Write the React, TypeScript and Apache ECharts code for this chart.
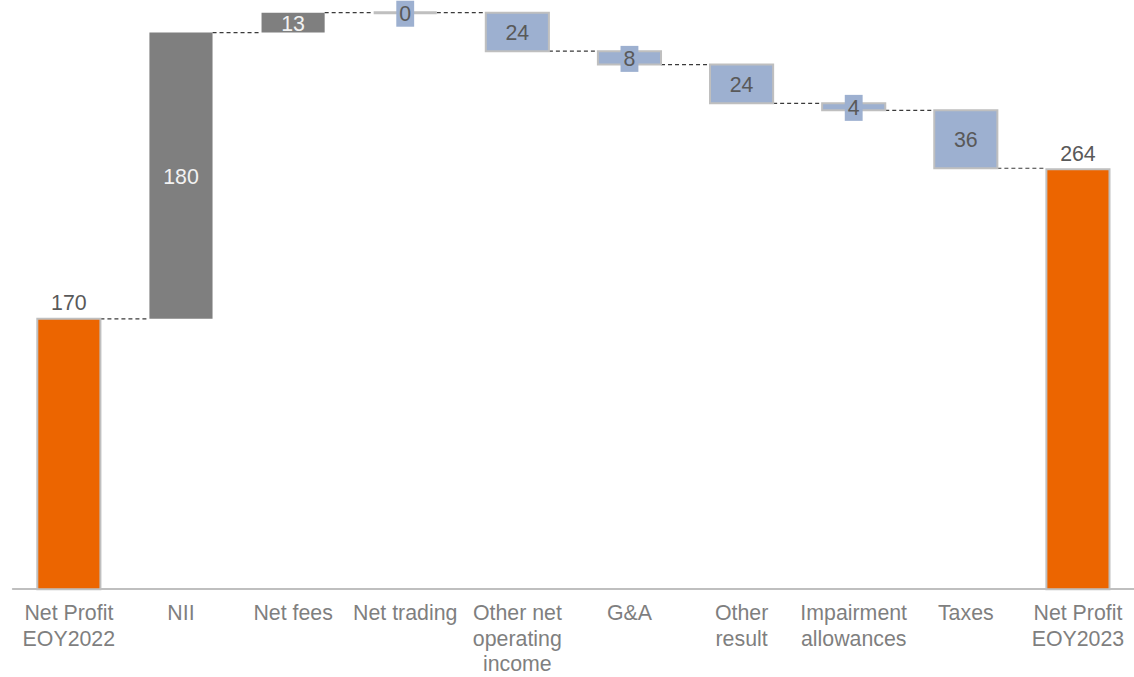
import React, { useEffect, useRef } from "react";
import * as echarts from "echarts";

const categories = [
  "Net Profit\nEOY2022",
  "NII",
  "Net fees",
  "Net trading",
  "Other net\noperating\nincome",
  "G&A",
  "Other\nresult",
  "Impairment\nallowances",
  "Taxes",
  "Net Profit\nEOY2023",
];
const startValue = 170;
const deltas = [180, 12.5, 0, -24.2, -8.4, -24.4, -4.4, -36.4];
const endValue = 264;
const smallLabelSteps = [3, 5, 7];

const ORANGE = "#EC6500";
const GRAY = "#7F7F7F";
const BLUE = "#9DB0D0";
const BORDER = "#BFBFBF";
const FONT = "'Liberation Sans', Arial, sans-serif";

export default function App() {
  const ref = useRef<HTMLDivElement>(null);
  useEffect(() => {
    if (!ref.current) return;
    const chart = echarts.init(ref.current, undefined, { renderer: "svg" });

    const rows: any[] = [];
    const levels: number[] = [];
    rows.push([0, 0, startValue, "total", startValue]);
    let level = startValue;
    levels.push(level);
    deltas.forEach((d, k) => {
      const prev = level;
      level = prev + d;
      const kind = d > 0 ? "up" : "down";
      rows.push([k + 1, Math.min(prev, level), Math.max(prev, level), kind, Math.abs(d)]);
      levels.push(level);
    });
    rows.push([categories.length - 1, 0, endValue, "total", endValue]);

    const connectors = levels.map((lv, i) => [i, lv]);
    const BAR_RATIO = 0.563;

    chart.setOption({
      animation: false,
      grid: { left: 12.8, right: -2.8, top: 0, bottom: 81.5, containLabel: false },
      xAxis: {
        type: "category",
        data: categories,
        axisTick: { show: false },
        axisLine: { show: true, lineStyle: { color: BORDER, width: 2 } },
        axisLabel: {
          interval: 0,
          color: "#7F7F7F",
          fontFamily: FONT,
          fontSize: 21.33,
          lineHeight: 25.6,
          margin: 11,
          align: "center",
        },
        splitLine: { show: false },
      },
      yAxis: {
        type: "value",
        min: 0,
        max: 370.5,
        show: false,
        splitLine: { show: false },
      },
      series: [
        {
          type: "custom",
          data: connectors,
          encode: { x: 0, y: 1 },
          z: 1,
          renderItem: (params: any, api: any) => {
            const i = api.value(0);
            const lv = api.value(1);
            const bw = api.size([1, 0])[0] * BAR_RATIO;
            const a = api.coord([i, lv]);
            const b = api.coord([i + 1, lv]);
            return {
              type: "line",
              shape: { x1: a[0] + bw / 2, y1: a[1], x2: b[0] - bw / 2, y2: b[1] },
              style: { stroke: "#3A3A3A", lineWidth: 1.2, lineDash: [4, 3] },
            };
          },
        },
        {
          type: "custom",
          data: rows,
          encode: { x: 0, y: [1, 2] },
          z: 2,
          renderItem: (params: any, api: any) => {
            const i = api.value(0);
            const low = api.value(1);
            const high = api.value(2);
            const kind = rows[params.dataIndex][3];
            const lbl = rows[params.dataIndex][4];
            const bw = api.size([1, 0])[0] * BAR_RATIO;
            const pt = api.coord([i, high]);
            const pb = api.coord([i, low]);
            const x = pt[0] - bw / 2;
            const h = pb[1] - pt[1];
            let fill = BLUE;
            let stroke = BORDER;
            let lw = 2;
            if (kind === "total") fill = ORANGE;
            if (kind === "up") {
              fill = GRAY;
              stroke = GRAY;
              lw = 0;
            }
            if (h < 0.5) {
              fill = BORDER;
              lw = 3;
            }
            const children: any[] = [
              {
                type: "rect",
                shape: { x, y: pt[1], width: bw, height: h },
                style: { fill, stroke: lw ? stroke : undefined, lineWidth: lw },
              },
            ];
            const text = String(Math.round(lbl));
            if (kind === "total") {
              children.push({
                type: "text",
                x: pt[0],
                y: pt[1] - 5,
                style: {
                  text,
                  fill: "#595959",
                  font: `21.33px ${FONT}`,
                  align: "center",
                  verticalAlign: "bottom",
                },
                z2: 10,
              });
            } else {
              const small = smallLabelSteps.indexOf(i) >= 0;
              children.push({
                type: "text",
                x: pt[0],
                y: (pt[1] + pb[1]) / 2 + 1,
                style: {
                  text,
                  fill: kind === "up" ? "#F2F2F2" : "#595959",
                  font: `21.33px ${FONT}`,
                  align: "center",
                  verticalAlign: "middle",
                  lineHeight: 22,
                  backgroundColor: small ? BLUE : undefined,
                  padding: small ? [2, 3] : 0,
                },
                z2: 10,
              });
            }
            return { type: "group", children };
          },
        },
      ],
    });
    return () => chart.dispose();
  }, []);
  return (
    <div
      ref={ref}
      style={{ position: "fixed", left: 0, top: 0, width: 1134, height: 677, background: "#fff" }}
    />
  );
}
